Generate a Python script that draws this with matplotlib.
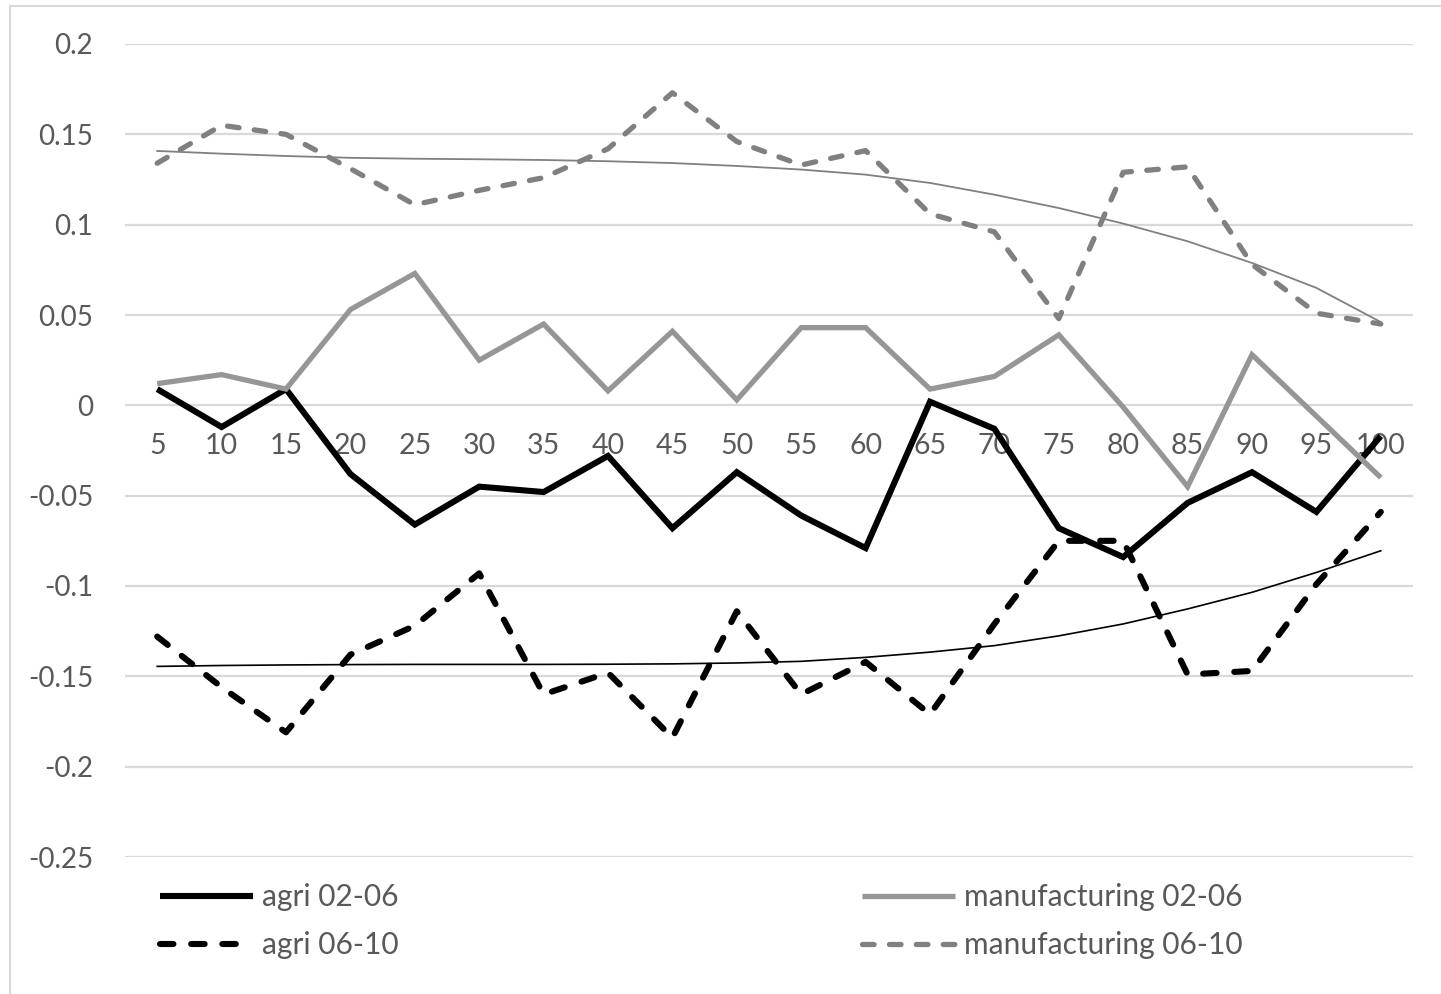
import numpy as np
import matplotlib
matplotlib.use("Agg")
import matplotlib.pyplot as plt
from matplotlib.lines import Line2D


# percentile categories
categories = [5, 10, 15, 20, 25, 30, 35, 40, 45, 50,
              55, 60, 65, 70, 75, 80, 85, 90, 95, 100]

agri_02_06 = [0.009, -0.012, 0.009, -0.038, -0.066, -0.045, -0.048, -0.028, -0.068, -0.037,
              -0.061, -0.079, 0.002, -0.013, -0.068, -0.084, -0.054, -0.037, -0.059, -0.017]
agri_06_10 = [-0.128, -0.156, -0.181, -0.138, -0.122, -0.093, -0.160, -0.148, -0.184, -0.114,
              -0.160, -0.142, -0.171, -0.121, -0.075, -0.075, -0.149, -0.147, -0.099, -0.059]
manuf_02_06 = [0.012, 0.017, 0.009, 0.053, 0.073, 0.025, 0.045, 0.008, 0.041, 0.003,
               0.043, 0.043, 0.009, 0.016, 0.039, -0.001, -0.045, 0.028, -0.006, -0.040]
manuf_06_10 = [0.134, 0.155, 0.150, 0.131, 0.111, 0.119, 0.126, 0.142, 0.173, 0.146,
               0.133, 0.141, 0.106, 0.096, 0.048, 0.129, 0.132, 0.078, 0.051, 0.045]

# trend lines
trend_agri_06_10 = [-0.1445, -0.1440, -0.1437, -0.1435, -0.1434, -0.1434, -0.1434, -0.1433, -0.1431, -0.1426,
                    -0.1417, -0.1395, -0.1366, -0.1330, -0.1276, -0.1210, -0.1127, -0.1035, -0.0925, -0.0805]
trend_manuf_06_10 = [0.1408, 0.1393, 0.1380, 0.1370, 0.1365, 0.1362, 0.1358, 0.1351, 0.1341, 0.1325,
                     0.1305, 0.1277, 0.1231, 0.1166, 0.1092, 0.1006, 0.0908, 0.0788, 0.0650, 0.0461]

y_ticks = [0.2, 0.15, 0.1, 0.05, 0, -0.05, -0.1, -0.15, -0.2, -0.25]
y_labels = ["0.2", "0.15", "0.1", "0.05", "0", "-0.05", "-0.1", "-0.15", "-0.2", "-0.25"]

TEXT_COLOR = "#595959"
GRID_COLOR = "#d9d9d9"
BLACK = "#000000"
LIGHT_GRAY = "#969696"
DARK_GRAY = "#808080"
FONT = ["Lato", "DejaVu Sans"]

plt.rcParams["font.family"] = FONT

fig = plt.figure(figsize=(14.41, 9.94), dpi=100)
ax = fig.add_axes([125 / 1441, 1 - 857 / 994, (1413 - 125) / 1441, (857 - 44) / 994])

x = np.arange(len(categories))

for yt in y_ticks:
    ax.axhline(yt, color=GRID_COLOR, linewidth=1.6, zorder=0)

dash = (0, (2.2, 2.9))

ax.plot(x, trend_manuf_06_10, color=DARK_GRAY, linewidth=1.3, zorder=2)
ax.plot(x, trend_agri_06_10, color=BLACK, linewidth=1.2, zorder=2)

ax.plot(x, agri_02_06, color=BLACK, linewidth=4.4, solid_joinstyle="miter",
        solid_capstyle="butt", label="agri 02-06", zorder=3)
ax.plot(x, agri_06_10, color=BLACK, linewidth=4.4, linestyle=dash,
        dash_capstyle="round", dash_joinstyle="round", label="agri 06-10", zorder=3)
ax.plot(x, manuf_02_06, color=LIGHT_GRAY, linewidth=3.8, solid_joinstyle="miter",
        solid_capstyle="butt", label="manufacturing 02-06", zorder=3)
ax.plot(x, manuf_06_10, color=DARK_GRAY, linewidth=3.8, linestyle=dash,
        dash_capstyle="round", dash_joinstyle="round", label="manufacturing 06-10", zorder=3)

ax.set_xlim(-0.5, len(categories) - 0.5)
ax.set_ylim(-0.25, 0.2)

ax.set_yticks(y_ticks)
ax.set_yticklabels(y_labels)
ax.tick_params(axis="y", length=0, pad=23, labelsize=20, labelcolor=TEXT_COLOR)

ax.spines["bottom"].set_position(("data", 0))
ax.set_xticks(x)
ax.set_xticklabels([str(c) for c in categories])
ax.tick_params(axis="x", length=0, pad=20, labelsize=20.5, labelcolor=TEXT_COLOR)

for side in ["top", "right", "left", "bottom"]:
    ax.spines[side].set_visible(False)

handles, labels = ax.get_legend_handles_labels()

leg_kw = dict(
    frameon=False,
    fontsize=21.5,
    labelcolor=TEXT_COLOR,
    handlelength=3.1,
    handletextpad=0.33,
    labelspacing=0.68,
    borderpad=0,
    borderaxespad=0,
    loc="upper left",
)
fig.legend(handles[:2], labels[:2], bbox_to_anchor=(160 / 1441, 1 - 883 / 994), **leg_kw)
fig.legend(handles[2:], labels[2:], bbox_to_anchor=(862 / 1441, 1 - 883 / 994), **leg_kw)

# chart area border (only top and left edges show)
fig.add_artist(Line2D([10 / 1441, 1], [1 - 6 / 994, 1 - 6 / 994], color=GRID_COLOR, linewidth=1.5))
fig.add_artist(Line2D([10 / 1441, 10 / 1441], [0, 1 - 6 / 994], color=GRID_COLOR, linewidth=1.5))

fig.savefig("out.png", dpi=100, facecolor="white")
plt.close(fig)
